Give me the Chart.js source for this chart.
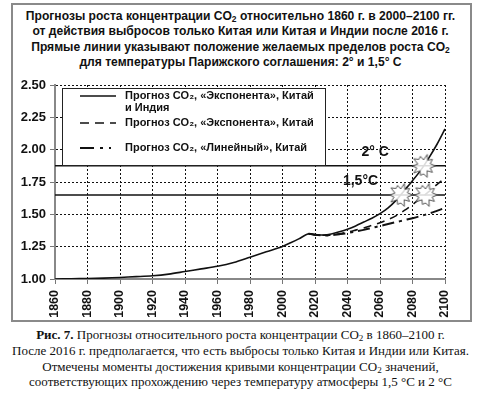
<!DOCTYPE html>
<html>
<head>
<meta charset="utf-8">
<script src="https://cdn.jsdelivr.net/npm/chart.js@4"></script>
<style>
  html, body { margin: 0; padding: 0; background: #fff; }
  body { width: 481px; height: 397px; position: relative; overflow: hidden; }
  #frame { position: absolute; left: 11px; top: 3px; width: 457px; height: 315px; border: 2px solid #8a8a8a; }
  #title { position: absolute; left: 0; top: 9px; width: 481px; text-align: center;
    font: bold 12.1px "Liberation Sans", Arial, sans-serif; line-height: 15.3px; color: #111; }
  #chartBox { position: absolute; left: 0; top: 70px; width: 481px; height: 250px; }
  #caption { position: absolute; left: 0; top: 327px; width: 481px; text-align: center;
    font: 13px "Liberation Serif", "Times New Roman", serif; line-height: 15.8px; color: #111; }
  sub { font-size: 0.7em; vertical-align: -0.2em; line-height: 0; }
</style>
</head>
<body>
<div id="frame"></div>
<div id="title">
  Прогнозы роста концентрации CO<sub>2</sub> относительно 1860 г. в 2000–2100 гг.<br>
  от действия выбросов только Китая или Китая и Индии после 2016 г.<br>
  Прямые линии указывают положение желаемых пределов роста CO<sub>2</sub><br>
  для температуры Парижского соглашения: 2° и 1,5° С
</div>
<div id="chartBox"><canvas id="myChart"></canvas></div>
<div id="caption">
  <b>Рис. 7.</b> Прогнозы относительного роста концентрации CO<sub>2</sub> в 1860–2100 г.<br>
  После 2016 г. предполагается, что есть выбросы только Китая и Индии или Китая.<br>
  Отмечены моменты достижения кривыми концентрации CO<sub>2</sub> значений,<br>
  соответствующих прохождению через температуру атмосферы 1,5 °С и 2 °С
</div>
<script>
document.addEventListener('DOMContentLoaded', () => {
    'use strict';

    // relative CO2 concentration (1860 = 1)
    const histYears = [1860, 1870, 1880, 1890, 1900, 1910, 1920, 1930, 1940, 1950, 1960, 1970, 1980, 1990, 2000, 2005, 2010, 2016,
        2020, 2025, 2030, 2035, 2040, 2045, 2050, 2055, 2060, 2065, 2070, 2075, 2080, 2085, 2090, 2095, 2100];
    const expChinaIndia = [1.000, 1.002, 1.004, 1.007, 1.012, 1.018, 1.025, 1.038, 1.058, 1.078, 1.098, 1.127, 1.168, 1.210, 1.252, 1.280, 1.310, 1.350,
        1.342, 1.340, 1.348, 1.365, 1.385, 1.410, 1.440, 1.470, 1.505, 1.550, 1.610, 1.685, 1.760, 1.840, 1.935, 2.040, 2.160];

    const chinaYears = [2016, 2020, 2025, 2030, 2035, 2040, 2045, 2050, 2055, 2060, 2065, 2070, 2075, 2080, 2085, 2090, 2095, 2100];
    const expChina = [1.350, 1.343, 1.338, 1.340, 1.350, 1.362, 1.378, 1.395, 1.415, 1.435, 1.460, 1.490, 1.530, 1.575, 1.625, 1.675, 1.730, 1.780];
    const linChina = [1.350, 1.342, 1.337, 1.338, 1.346, 1.355, 1.367, 1.380, 1.395, 1.410, 1.425, 1.440, 1.455, 1.470, 1.487, 1.505, 1.527, 1.550];

    // Paris agreement limits
    const limit2 = 1.875;
    const limit15 = 1.65;
    const limitLabels = ['2° C', '1,5°C'];
    const limitLabelYears = [2057, 2048];

    // moments of crossing the limits
    const crossYears = [2072.7, 2086.8, 2088];
    const crossValues = [1.65, 1.875, 1.65];

    const legendLabels = [
        ['Прогноз CO₂, «Экспонента», Китай', 'и Индия'],
        ['Прогноз CO₂, «Экспонента», Китай'],
        ['Прогноз CO₂, «Линейный», Китай']
    ];

    const xTicks = [];
    for (let y = 1860; y <= 2100; y += 10) xTicks.push(y);

    const toPts = (xs, ys) => xs.map((x, i) => ({ x: x, y: ys[i] }));

    // jagged burst marker
    function makeBurst() {
        const c = document.createElement('canvas');
        c.width = 26; c.height = 26;
        const g = c.getContext('2d');
        const radii = [12, 7, 11, 6, 12, 8, 10, 6, 12, 7, 11, 6, 12, 8, 10, 6, 12, 7, 11, 7];
        g.beginPath();
        radii.forEach((r, i) => {
            const a = i / radii.length * Math.PI * 2;
            const px = 13 + r * Math.cos(a), py = 13 + r * Math.sin(a);
            if (i === 0) g.moveTo(px, py); else g.lineTo(px, py);
        });
        g.closePath();
        g.fillStyle = 'rgba(255,255,255,0.85)';
        g.fill();
        g.strokeStyle = '#555';
        g.lineWidth = 1;
        g.stroke();
        return c;
    }
    const burst = makeBurst();

    const BOLD = '"Liberation Sans", Arial, sans-serif';
    const NARROW = '"Liberation Sans Narrow", "Arial Narrow", "Liberation Sans", sans-serif';

    const overlay = {
        id: 'overlay',
        afterDatasetsDraw(chart) {
            const ctx = chart.ctx;
            const xs = chart.scales.x, ys = chart.scales.y;
            ctx.save();
            // limit labels
            ctx.fillStyle = '#111';
            ctx.font = 'bold 14px ' + BOLD;
            ctx.textAlign = 'center';
            ctx.textBaseline = 'middle';
            ctx.fillText(limitLabels[0], xs.getPixelForValue(limitLabelYears[0]), ys.getPixelForValue(limit2) - 14);
            ctx.fillText(limitLabels[1], xs.getPixelForValue(limitLabelYears[1]), ys.getPixelForValue(limit15) - 14);

            // legend box
            const left = xs.left + 7, top = ys.top + 3, right = xs.left + 270, bottom = ys.top + 80;
            ctx.fillStyle = '#fff';
            ctx.fillRect(left, top, right - left, bottom - top);
            ctx.strokeStyle = '#222';
            ctx.lineWidth = 1;
            ctx.strokeRect(left + 0.5, top + 0.5, right - left, bottom - top);

            const rows = [top + 8, top + 35, top + 60];
            const styles = [
                { dash: [], w: 1.5 },
                { dash: [9, 6], w: 1.5 },
                { dash: [14, 6, 3, 6, 2, 60], w: 2 }
            ];
            ctx.font = 'bold 11px ' + BOLD;
            ctx.textAlign = 'left';
            ctx.textBaseline = 'middle';
            legendLabels.forEach((lines, i) => {
                ctx.beginPath();
                ctx.setLineDash(styles[i].dash);
                ctx.lineWidth = styles[i].w;
                ctx.strokeStyle = '#111';
                ctx.moveTo(left + 18, rows[i]);
                ctx.lineTo(left + 54, rows[i]);
                ctx.stroke();
                ctx.setLineDash([]);
                ctx.fillStyle = '#111';
                lines.forEach((t, k) => ctx.fillText(t, left + 63, rows[i] + k * 11.5));
            });
            ctx.restore();
        }
    };

    const ctx = document.getElementById('myChart').getContext('2d');
    const myChart = new Chart(ctx, {
        type: 'line',
        data: {
            datasets: [
                {
                    data: toPts(crossYears, crossValues),
                    showLine: false,
                    pointStyle: burst,
                    pointRadius: 12,
                    order: 0
                },
                {
                    data: toPts(histYears, expChinaIndia),
                    borderColor: '#111',
                    borderWidth: 1.6,
                    pointRadius: 0,
                    tension: 0.3,
                    order: 1
                },
                {
                    data: toPts(chinaYears, expChina),
                    borderColor: '#111',
                    borderWidth: 1.6,
                    borderDash: [8, 6],
                    pointRadius: 0,
                    tension: 0.3,
                    order: 2
                },
                {
                    data: toPts(chinaYears, linChina),
                    borderColor: '#111',
                    borderWidth: 2,
                    borderDash: [12, 5, 3, 5],
                    pointRadius: 0,
                    tension: 0.3,
                    order: 3
                },
                {
                    data: toPts([1860, 2100], [limit2, limit2]),
                    borderColor: '#111',
                    borderWidth: 1.5,
                    pointRadius: 0,
                    order: 4
                },
                {
                    data: toPts([1860, 2100], [limit15, limit15]),
                    borderColor: '#111',
                    borderWidth: 1.5,
                    pointRadius: 0,
                    order: 5
                }
            ]
        },
        options: {
            responsive: true,
            maintainAspectRatio: false,
            animation: false,
            layout: { padding: { left: 0, right: 36, top: 15, bottom: 0 } },
            scales: {
                x: {
                    type: 'linear',
                    min: 1860,
                    max: 2100,
                    afterBuildTicks: axis => { axis.ticks = xTicks.map(v => ({ value: v })); },
                    afterFit: axis => { axis.height = 41; },
                    grid: {
                        color: '#111',
                        lineWidth: 1,
                        tickLength: 5,
                        tickColor: '#777'
                    },
                    border: { color: '#888', width: 2, dash: [2, 2] },
                    ticks: {
                        minRotation: 90,
                        maxRotation: 90,
                        padding: 6,
                        color: '#111',
                        font: { family: NARROW, size: 12.5, weight: 'bold' },
                        callback: v => String(v)
                    }
                },
                y: {
                    min: 1,
                    max: 2.5,
                    afterFit: axis => { axis.width = 55; },
                    grid: {
                        color: '#111',
                        lineWidth: 1,
                        tickLength: 5,
                        tickColor: '#777'
                    },
                    border: { color: '#888', width: 2, dash: [2, 2] },
                    ticks: {
                        stepSize: 0.25,
                        padding: 4,
                        color: '#111',
                        font: { family: NARROW, size: 13, weight: 'bold' },
                        callback: v => v.toFixed(2)
                    }
                }
            },
            plugins: {
                legend: { display: false },
                tooltip: { enabled: false }
            }
        },
        plugins: [overlay]
    });
});
</script>
</body>
</html>
